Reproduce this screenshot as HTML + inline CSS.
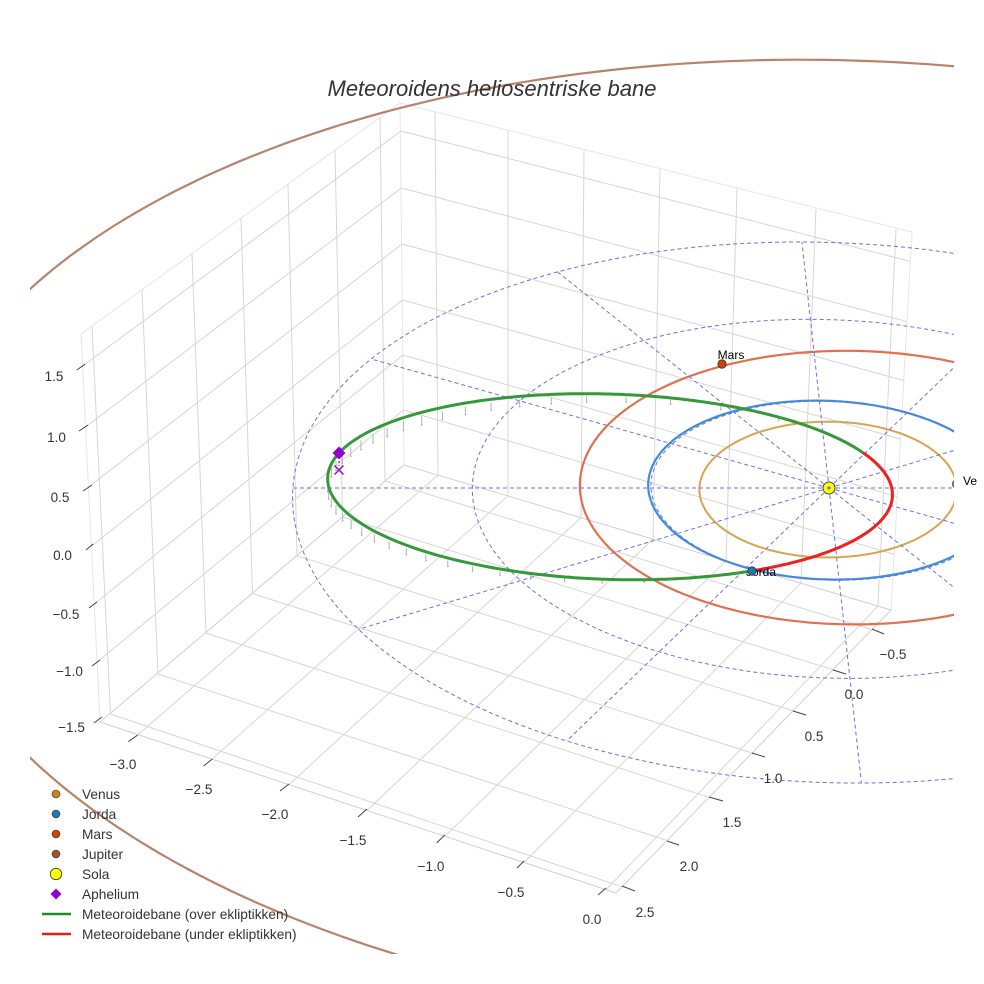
<!DOCTYPE html>
<html><head><meta charset="utf-8">
<style>
html,body{margin:0;padding:0;background:#fff;}
svg{display:block;}
text{font-family:"Liberation Sans",Arial,sans-serif;}
</style></head>
<body>
<svg id="s" width="984" height="984" viewBox="0 0 984 984" xmlns="http://www.w3.org/2000/svg">
<defs><clipPath id="clip"><rect x="30" y="30" width="924" height="924"/></clipPath>
<clipPath id="clipv"><rect x="940" y="460" width="36.5" height="40"/></clipPath></defs>
<rect x="0" y="0" width="984" height="984" fill="#fff"/>
<g id="grid" clip-path="url(#clip)" fill="none"></g>
<g id="orb" clip-path="url(#clip)"></g>
<g id="ticks" stroke="#444" stroke-width="1"></g>
<g font-size="13.5" fill="#333" text-anchor="middle">
<text x="54" y="381">1.5</text>
<text x="56.5" y="442">1.0</text>
<text x="60" y="502">0.5</text>
<text x="62.5" y="560">0.0</text>
<text x="66" y="619">−0.5</text>
<text x="69.5" y="676">−1.0</text>
<text x="71.5" y="732">−1.5</text>
<text x="123" y="769">−3.0</text>
<text x="199" y="794">−2.5</text>
<text x="275" y="819">−2.0</text>
<text x="353" y="845">−1.5</text>
<text x="431" y="871">−1.0</text>
<text x="511" y="897">−0.5</text>
<text x="592" y="924">0.0</text>
<text x="893" y="659">−0.5</text>
<text x="854" y="699">0.0</text>
<text x="814" y="741">0.5</text>
<text x="773" y="783">1.0</text>
<text x="732" y="827">1.5</text>
<text x="689" y="871">2.0</text>
<text x="645" y="917">2.5</text>
</g>
<g font-size="12" fill="#000">
<text x="731" y="359" text-anchor="middle">Mars</text>
<text x="746" y="576">Jorda</text>
<text x="963" y="485" clip-path="url(#clipv)">Venus</text>
</g>
<circle cx="957" cy="484" r="4.5" fill="#c8861a" stroke="#333" stroke-width="0.8" clip-path="url(#clip)"/>
<circle cx="722" cy="364" r="4.2" fill="#cc4411" stroke="#333" stroke-width="0.8"/>
<circle cx="752" cy="571" r="4.2" fill="#1f77b4" stroke="#333" stroke-width="0.8"/>
<circle cx="829" cy="488" r="6" fill="#ffff00" stroke="#444" stroke-width="1"/>
<circle cx="829" cy="488" r="1.6" fill="#6e6ee8"/>
<path d="M339,457V466" stroke="#9400d3" stroke-width="1.2" stroke-dasharray="2 2"/>
<path d="M334.5,465.5L343.5,474.5M334.5,474.5L343.5,465.5" stroke="#9400d3" stroke-width="1.4"/>
<polygon points="339,446.5 345.5,453 339,459.5 332.5,453" fill="#9400d3"/>
<text x="492" y="96" text-anchor="middle" font-size="22" font-style="italic" fill="#333">Meteoroidens heliosentriske bane</text>
<circle cx="56" cy="794" r="4" fill="#c8861a" stroke="#333" stroke-width="0.6"/>
<circle cx="56" cy="814" r="4" fill="#1f77b4" stroke="#333" stroke-width="0.6"/>
<circle cx="56" cy="834" r="4" fill="#cc4411" stroke="#333" stroke-width="0.6"/>
<circle cx="56" cy="854" r="4" fill="#a0522d" stroke="#333" stroke-width="0.6"/>
<circle cx="56" cy="874" r="5.7" fill="#ffff00" stroke="#333" stroke-width="0.8"/>
<polygon points="56,888.5 61.5,894 56,899.5 50.5,894" fill="#9400d3"/>
<path d="M42,914H71" stroke="#228b22" stroke-width="2.5"/>
<path d="M42,934H71" stroke="#e02020" stroke-width="2.5"/>
<g font-size="13.7" fill="#333">
<text x="82" y="799">Venus</text>
<text x="82" y="819">Jorda</text>
<text x="82" y="839">Mars</text>
<text x="82" y="859">Jupiter</text>
<text x="82" y="879">Sola</text>
<text x="82" y="899">Aphelium</text>
<text x="82" y="919">Meteoroidebane (over ekliptikken)</text>
<text x="82" y="939">Meteoroidebane (under ekliptikken)</text>
</g>
</svg>
<script>
(function(){
var NS="http://www.w3.org/2000/svg",D=Math.PI/180;
function mk(par,tag,a){var e=document.createElementNS(NS,tag);for(var k in a)e.setAttribute(k,a[k]);par.appendChild(e);return e;}
function segs(arr){var s="";for(var i=0;i<arr.length;i+=4){s+="M"+arr[i]+","+arr[i+1]+"L"+arr[i+2]+","+arr[i+3];}return s;}
var grid=document.getElementById("grid");
var edges=[81,334,400,103, 400,103,912,232, 81,334,100,722, 400,103,404,465, 912,232,891,610];
mk(grid,"path",{d:segs(edges),stroke:"#e6e6e6","stroke-width":1});
mk(grid,"path",{d:"M100,722L616,893L891,610L404,465Z",stroke:"#d0d0d0","stroke-width":1});
var gl=[138,734.6,438,475.1, 212,759.1,508,496, 289,784.6,581,517.7, 367,810.5,653,539.1, 445,836.3,726,560.9, 524,862.5,801,583.2, 606,889.7,878,606.1,
110.5,714,622,886.8, 158,674,667,840.5, 206,633,709,797.3, 252.5,593.6,752,753, 297,555.8,793,710.9, 342.5,517,833,669.7, 385,481,872,629.6,
110.5,714,92,326, 158,674,142,290, 206,633,192,254, 252.5,593.6,241,218, 297,555.8,288,185, 342.5,517,335,150, 385,481,380,117,
82.6,366,401,131, 85.5,427,401.5,188, 88.5,487,402,244, 91.5,546,402.5,300, 94.3,604,403,355, 97.1,662,403.5,410,
438,475,435,112, 508,496,508,130.6, 581,518,584,150, 653,540,660,169.4, 726,561,737,189, 801,583,816,209, 878,606,896,229.7,
401,131,910,261.3, 401.5,188,907,321.6, 402,244,903.7,380.4, 402.5,300,900.5,439, 403,355,897.3,496.6, 403.5,410,894,554.2];
mk(grid,"path",{d:segs(gl),stroke:"#d6d6d6","stroke-width":1});
var tk=[76.7,370,85,364.3, 79,431,88,425, 83,491,92,485, 86,550,93,544, 89,608,97,602, 92,666,100,660, 94,723,102,717,
128.4,741.7,137.7,735, 203.5,766,212.4,759, 280,791,289,784, 358,817,367,809, 436.6,843,444.8,835, 517,868,524,861, 598,895,606,888,
872,629,884,634, 833,670,846,674, 793,711,806,715, 752,753,765,757, 709,797,723,801, 667,841,679,845, 622,886,635,891];
mk(document.getElementById("ticks"),"path",{d:segs(tk)});
var g=document.getElementById("orb");
function H(X,Y,z){var w=1+0.002*X+0.0302*Y;return [(179.3*X+15.2*Y+829)/w,(0.976*X-74.7*Y+488)/w-112*(z||0)/w];}
function P(pts){var s="";for(var i=0;i<pts.length;i++){s+=(i?"L":"M")+pts[i][0].toFixed(1)+","+pts[i][1].toFixed(1);}return s;}
function orbit(a,e,w,inc,Om,n){var p=a*(1-e*e),pts=[];for(var k=0;k<=n;k++){var f=k*360/n;var r=p/(1+e*Math.cos((f-w)*D));var z=r*Math.sin(inc*D)*Math.sin((f-Om)*D);pts.push(H(r*Math.cos(f*D),r*Math.sin(f*D),z));}return pts;}
var pl=[[5.2034,0.0484,247.75,1.304,333.47,"#b8836b",2.2],[1.5237,0.0934,209.06,1.85,282.56,"#e0714e",2.2],[1.0,0.0167,335.94,0,0,"#3d8fd8",2.2],[0.7233,0.0068,4.5,3.39,309.68,"#d6a550",2]];
pl.forEach(function(q){mk(g,"path",{d:P(orbit(q[0],q[1],q[2],q[3],q[4],360)),fill:"none",stroke:q[5],"stroke-width":q[6]});});
var dd="";
[1,2,3].forEach(function(r){dd+=P(orbit(r,0,0,0,0,240));});
for(var k=0;k<12;k++){var t=k*30*D;dd+=P([H(0,0,0),H(3*Math.cos(t),3*Math.sin(t),0)]);}
mk(g,"path",{d:dd,fill:"none",stroke:"#6e6ee8","stroke-width":1,"stroke-dasharray":"4 3"});
var A=1.5852,B=1.2282,C=0.0352,SI=0.06018,OM=62;
function met(phi){var c=Math.cos(phi*D),s=Math.sin(phi*D);var r=1/(A+B*c+C*s);return {X:r*c,Y:r*s,z:r*SI*Math.sin((phi-OM)*D)};}
var e=0.7751,w0=1.64,N=44,st="";
for(var j=0;j<N;j++){var M=j*2*Math.PI/N,E=M+e*Math.sin(M);for(var it=0;it<30;it++){E=E-(E-e*Math.sin(E)-M)/(1-e*Math.cos(E));}
var f=2*Math.atan2(Math.sqrt(1+e)*Math.sin(E/2),Math.sqrt(1-e)*Math.cos(E/2));var o=met(f/D+w0);
if(o.z>0.004){var pc=H(o.X,o.Y,o.z),pe=H(o.X,o.Y,0);var L=pe[1]-pc[1];
st+="M"+pc[0].toFixed(1)+","+(pc[1]+0.25*L).toFixed(1)+"V"+(pc[1]+0.8*L).toFixed(1);
mk(g,"circle",{cx:pc[0].toFixed(1),cy:(pc[1]+0.8*L).toFixed(1),r:0.9,fill:"#b3b3b3"});}}
mk(g,"path",{d:st,stroke:"#b3b3b3","stroke-width":1,fill:"none"});
var gp=[],rp=[],ph,o2;
for(ph=62;ph<=242.01;ph+=0.5){o2=met(ph);gp.push(H(o2.X,o2.Y,o2.z));}
for(ph=242;ph<=422.01;ph+=0.5){o2=met(ph);rp.push(H(o2.X,o2.Y,o2.z));}
mk(g,"path",{d:P(gp),fill:"none",stroke:"#35993a","stroke-width":3,"stroke-linejoin":"round"});
mk(g,"path",{d:P(rp),fill:"none",stroke:"#ee2020","stroke-width":3,"stroke-linejoin":"round"});
})();
</script>
</body></html>
